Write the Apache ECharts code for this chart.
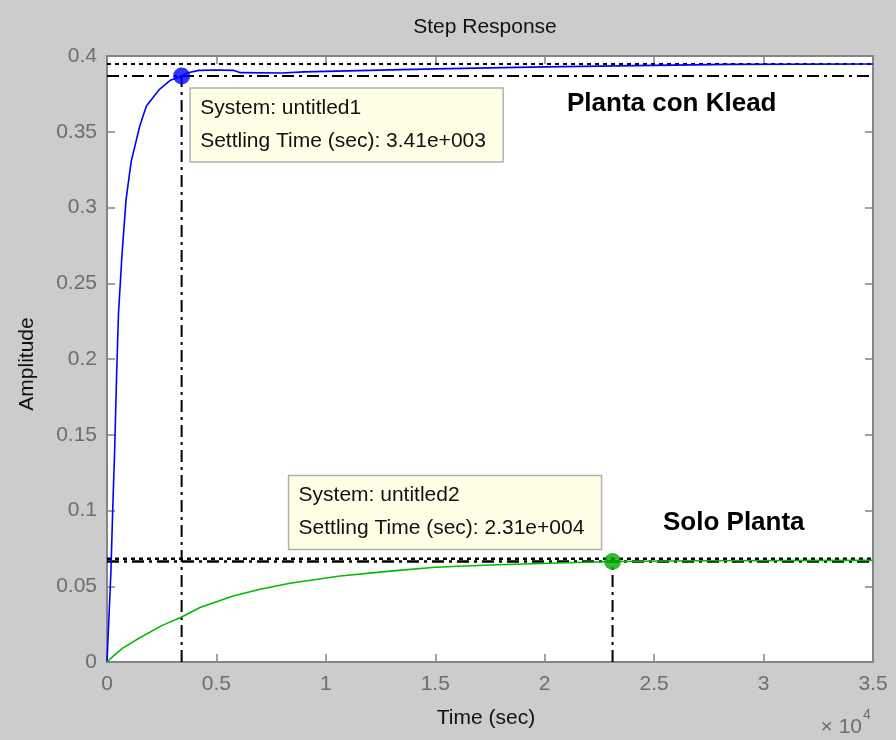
<!DOCTYPE html>
<html>
<head>
<meta charset="utf-8">
<title>Step Response</title>
<script src="https://cdn.jsdelivr.net/npm/echarts@6/dist/echarts.min.js"></script>
<style>
  html, body { margin: 0; padding: 0; background: #cccccc; }
  #chart { width: 896px; height: 740px; }
</style>
</head>
<body>
<div id="chart"></div>
<script>
// Step response of the plant with Klead (untitled1) and the plant alone (untitled2)
const timeKlead = [0, 90, 180, 260, 350, 440, 525, 690, 870, 1100, 1500, 1800, 2400, 2900, 3410, 3700, 4200, 5000, 5800, 6100, 8000, 9000, 12000, 15000, 20000, 25000, 28500, 35000];
const ampKlead  = [0, 0.03, 0.06, 0.10, 0.14, 0.19, 0.23, 0.27, 0.305, 0.33, 0.354, 0.367, 0.378, 0.384, 0.3868, 0.389, 0.3905, 0.3908, 0.3905, 0.389, 0.3888, 0.3895, 0.3905, 0.3915, 0.3928, 0.3938, 0.3945, 0.3947];

const timePlant = [0, 300, 700, 1500, 2500, 3410, 4250, 5760, 7000, 8360, 10650, 12930, 15000, 17500, 19800, 23100, 27000, 35000];
const ampPlant  = [0, 0.004, 0.009, 0.016, 0.024, 0.0297, 0.036, 0.0436, 0.048, 0.052, 0.0568, 0.0600, 0.0625, 0.0640, 0.0650, 0.0663, 0.0668, 0.0671];

// steady-state values and settling points
const finalKlead = 0.3947, settleKlead = 0.3868, settleTimeKlead = 3410;
const finalPlant = 0.0681, settlePlant = 0.0663, settleTimePlant = 23100;

const xTickLabels = ['0', '0.5', '1', '1.5', '2', '2.5', '3', '3.5'];
const yTickLabels = ['0', '0.05', '0.1', '0.15', '0.2', '0.25', '0.3', '0.35', '0.4'];

const tipKlead = ['System: untitled1', 'Settling Time (sec): 3.41e+003'];
const tipPlant = ['System: untitled2', 'Settling Time (sec): 2.31e+004'];

const FONT = "'Liberation Sans', Arial, sans-serif";
const AXIS = '#858585';
const TICKTXT = '#6e6e6e';

const pairs = (xs, ys) => xs.map((x, i) => [x, ys[i]]);
const hLine = (y) => [[0, y], [35000, y]];
const vLine = (x, y) => [[x, 0], [x, y]];

const chart = echarts.init(document.getElementById('chart'), null, { renderer: 'canvas' });

const baseAxis = {
  type: 'value',
  axisLine: { show: true, onZero: false, lineStyle: { color: AXIS, width: 2 } },
  axisTick: { show: true, inside: true, length: 8, lineStyle: { color: AXIS, width: 1.5 } },
  splitLine: { show: false },
};

const refLine = (data, dash, width) => ({
  type: 'line', data, symbol: 'none', silent: true, z: 3,
  lineStyle: { color: '#000', width: width || 2, type: dash },
  animation: false,
});
const DOT = [4, 4];
const DASHDOT = [12, 5, 3, 5];

chart.setOption({
  backgroundColor: '#cccccc',
  animation: false,
  grid: { left: 107, right: 23, top: 56, bottom: 78, backgroundColor: '#ffffff', show: true, borderWidth: 0 },
  xAxis: [
    Object.assign({}, baseAxis, {
      min: 0, max: 35000, interval: 5000, position: 'bottom',
      axisLabel: { color: TICKTXT, fontFamily: FONT, fontSize: 21, margin: 12,
        formatter: v => xTickLabels[Math.round(v / 5000)] },
    }),
    Object.assign({}, baseAxis, {
      min: 0, max: 35000, interval: 5000, position: 'top', axisLabel: { show: false },
    }),
  ],
  yAxis: [
    Object.assign({}, baseAxis, {
      min: 0, max: 0.4, interval: 0.05, position: 'left',
      axisLabel: { color: TICKTXT, fontFamily: FONT, fontSize: 21, margin: 10,
        formatter: v => yTickLabels[Math.round(v / 0.05)] },
    }),
    Object.assign({}, baseAxis, {
      min: 0, max: 0.4, interval: 0.05, position: 'right', axisLabel: { show: false },
    }),
  ],
  series: [
    refLine(hLine(finalKlead), DOT),
    refLine(hLine(settleKlead), DASHDOT),
    refLine(hLine(finalPlant), DOT, 2.5),
    refLine(hLine(settlePlant), DASHDOT, 2.5),
    refLine(vLine(settleTimeKlead, settleKlead), DASHDOT),
    refLine(vLine(settleTimePlant, settlePlant), DASHDOT),
    {
      name: 'untitled1', type: 'line', data: pairs(timeKlead, ampKlead),
      symbol: 'none', z: 4, lineStyle: { color: '#0000ff', width: 1.6 },
    },
    {
      name: 'untitled2', type: 'line', data: pairs(timePlant, ampPlant),
      symbol: 'none', z: 4, lineStyle: { color: '#00bb00', width: 1.6 },
    },
    {
      type: 'scatter', data: [[settleTimeKlead, settleKlead]], symbolSize: 17, z: 6,
      itemStyle: { color: '#0000ff' },
    },
    {
      type: 'scatter', data: [[settleTimePlant, settlePlant]], symbolSize: 17, z: 6,
      itemStyle: { color: '#00aa00' },
    },
  ],
});

// data-tip boxes anchored to the settling markers
const pK = chart.convertToPixel({ gridIndex: 0 }, [settleTimeKlead, settleKlead]);
const pP = chart.convertToPixel({ gridIndex: 0 }, [settleTimePlant, settlePlant]);
const BOX_W = 313, BOX_H = 74;

function tipBox(x, y, lines) {
  return {
    type: 'group', x, y, z: 20,
    children: [
      { type: 'rect', shape: { x: 0, y: 0, width: BOX_W, height: BOX_H },
        style: { fill: '#ffffe6', stroke: '#b0b0b0', lineWidth: 1.5 } },
      { type: 'text', x: 10, y: 20, style: { text: lines[0], font: '21px ' + FONT, fill: '#111', textVerticalAlign: 'middle' } },
      { type: 'text', x: 10, y: 53, style: { text: lines[1], font: '21px ' + FONT, fill: '#111', textVerticalAlign: 'middle' } },
    ],
  };
}

chart.setOption({
  graphic: [
    tipBox(pK[0] + 8.5, pK[1] + 12, tipKlead),
    tipBox(pP[0] - 11 - BOX_W, pP[1] - 12 - BOX_H, tipPlant),
    { type: 'text', x: 485, y: 27, z: 10,
      style: { text: 'Step Response', font: '21px ' + FONT, fill: '#111', textAlign: 'center', textVerticalAlign: 'middle' } },
    { type: 'text', x: 486, y: 718, z: 10,
      style: { text: 'Time (sec)', font: '21px ' + FONT, fill: '#111', textAlign: 'center', textVerticalAlign: 'middle' } },
    { type: 'text', x: 27, y: 364, rotation: Math.PI / 2, z: 10,
      style: { text: 'Amplitude', font: '21px ' + FONT, fill: '#111', textAlign: 'center', textVerticalAlign: 'middle' } },
    { type: 'text', x: 862, y: 727, z: 10,
      style: { text: '× 10', font: '21px ' + FONT, fill: TICKTXT, textAlign: 'right', textVerticalAlign: 'middle' } },
    { type: 'text', x: 863, y: 715, z: 10,
      style: { text: '4', font: '14px ' + FONT, fill: TICKTXT, textAlign: 'left', textVerticalAlign: 'middle' } },
    { type: 'text', x: 567, y: 104, z: 10,
      style: { text: 'Planta con Klead', font: 'bold 26px ' + FONT, fill: '#000', textAlign: 'left', textVerticalAlign: 'middle' } },
    { type: 'text', x: 663, y: 523, z: 10,
      style: { text: 'Solo Planta', font: 'bold 26px ' + FONT, fill: '#000', textAlign: 'left', textVerticalAlign: 'middle' } },
  ],
});
</script>
</body>
</html>
